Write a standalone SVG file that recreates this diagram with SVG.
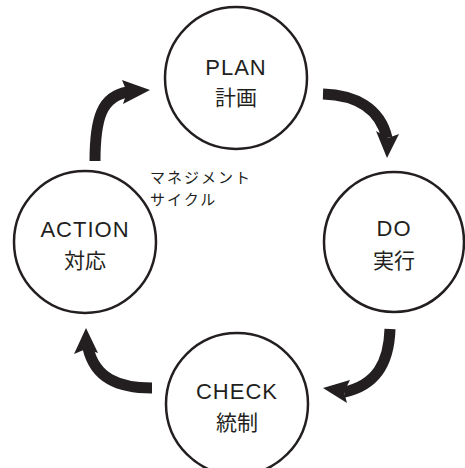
<svg xmlns="http://www.w3.org/2000/svg" width="465" height="468" viewBox="0 0 465 468">
<style>
.node circle{fill:#fff;stroke:#231f20;stroke-width:2.5}
.lat{font-family:"Liberation Sans",Arial,sans-serif;font-size:22px;letter-spacing:1px;fill:#231f20;text-anchor:middle}
.jp{font-family:"Noto Sans CJK JP","Noto Sans",sans-serif;font-size:21px;fill:#231f20;text-anchor:middle}
.mid{font-family:"Noto Sans CJK JP","Noto Sans",sans-serif;font-size:15px;letter-spacing:2px;fill:#231f20}
.shaft{fill:none;stroke:#231f20;stroke-width:11;stroke-linecap:butt}
.head{fill:#231f20;stroke:none}
</style>
<rect width="465" height="468" fill="#fff"/>
<g id="connectors">
<path class="shaft" d="M95,161 C95,118 102,96 128,92"/>
<polygon class="head" points="150,90 122,80 127,92 123,104"/>
<path class="shaft" d="M323,94 C355,95 380,108 387,138"/>
<polygon class="head" points="387,158 376,131 388,138 399,134"/>
<path class="shaft" d="M390,329 C389,362 377,385 344,392"/>
<polygon class="head" points="323,388 350,380 344,392 347,403"/>
<path class="shaft" d="M152,388 C118,388 95,378 88,348"/>
<polygon class="head" points="86,328 74,354 86,349 98,353"/>
</g>
<g id="plan" class="node">
<circle cx="236" cy="78" r="71"/>
<text class="lat" x="236" y="75">PLAN</text>
<text class="jp" x="236" y="105">計画</text>
</g>
<g id="do" class="node">
<circle cx="394" cy="242" r="70"/>
<text class="lat" x="394" y="236">DO</text>
<text class="jp" x="394" y="268">実行</text>
</g>
<g id="check" class="node">
<circle cx="237" cy="404" r="71"/>
<text class="lat" x="237" y="399">CHECK</text>
<text class="jp" x="237" y="430">統制</text>
</g>
<g id="action" class="node">
<circle cx="85" cy="242" r="71"/>
<text class="lat" x="85" y="237">ACTION</text>
<text class="jp" x="85" y="268">対応</text>
</g>
<g id="label">
<text class="mid" x="150" y="183">マネジメント</text>
<text class="mid" x="150" y="205">サイクル</text>
</g>
</svg>
